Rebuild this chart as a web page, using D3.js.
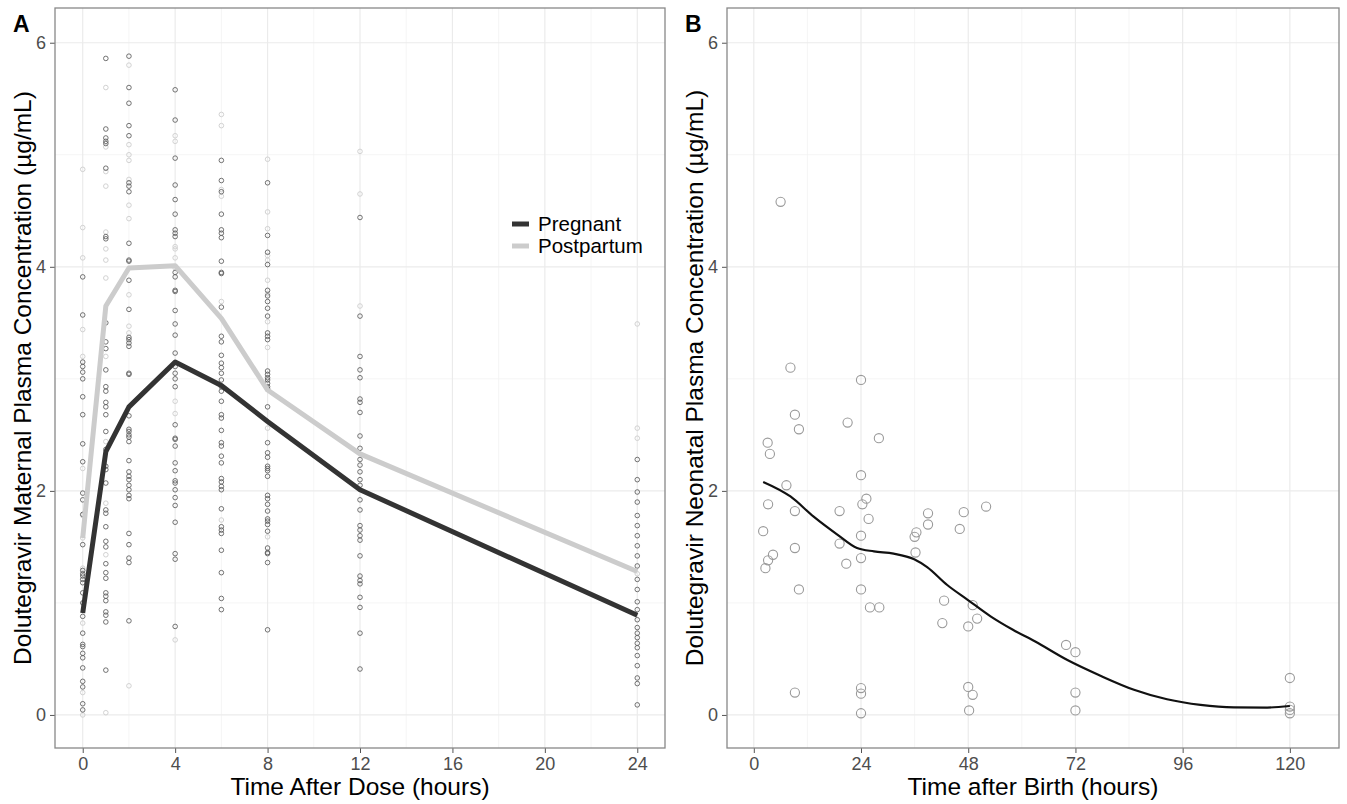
<!DOCTYPE html>
<html>
<head>
<meta charset="utf-8">
<script src="https://cdn.jsdelivr.net/npm/d3@7"></script>
<style>
  body { margin: 0; background: #fff; }
  svg { font-family: "Liberation Sans", Arial, sans-serif; }
</style>
</head>
<body>
<div class="canvas"></div>
<script>
// ---- panel A data (maternal) ----
const timesA = [0, 1, 2, 4, 6, 8, 12, 24];
const pregnantObs = [
  [3.91, 3.57, 3.15, 3.11, 3.06, 3.0, 2.84, 2.68, 2.42, 2.26, 1.98, 1.92, 1.79, 1.52, 1.29, 1.26, 1.24, 1.21, 1.18, 1.09, 1.0, 0.88, 0.73, 0.63, 0.61, 0.55, 0.51, 0.42, 0.3, 0.25, 0.1, 0.045],
  [5.86, 5.23, 5.15, 5.12, 5.1, 4.88, 4.27, 4.25, 3.5, 3.33, 3.27, 3.08, 2.93, 2.89, 2.79, 2.75, 2.68, 2.53, 2.37, 2.22, 2.19, 2.07, 1.83, 1.8, 1.68, 1.55, 1.5, 1.35, 1.27, 1.22, 1.09, 1.06, 1.02, 0.92, 0.89, 0.83, 0.4],
  [5.88, 5.6, 5.46, 5.26, 5.17, 4.75, 4.72, 4.67, 4.21, 4.06, 4.05, 3.88, 3.62, 3.37, 3.35, 3.32, 3.29, 3.05, 3.04, 2.67, 2.55, 2.53, 2.5, 2.48, 2.44, 2.27, 2.17, 2.13, 2.1, 2.05, 2.01, 1.96, 1.93, 1.62, 1.52, 1.4, 1.36, 0.84],
  [5.58, 5.31, 4.97, 4.73, 4.6, 4.47, 4.33, 4.3, 4.27, 3.95, 3.91, 3.79, 3.78, 3.61, 3.49, 3.39, 3.23, 3.11, 3.05, 3.0, 2.93, 2.59, 2.47, 2.46, 2.4, 2.25, 2.18, 2.09, 2.07, 2.01, 1.94, 1.87, 1.72, 1.44, 1.39, 0.79],
  [4.95, 4.77, 4.67, 4.47, 4.33, 4.3, 4.26, 4.05, 3.95, 3.94, 3.64, 3.38, 3.33, 3.21, 3.14, 3.1, 3.05, 2.99, 2.93, 2.89, 2.8, 2.68, 2.65, 2.54, 2.43, 2.4, 2.31, 2.25, 2.11, 2.08, 2.04, 2.01, 1.84, 1.68, 1.65, 1.62, 1.47, 1.27, 1.04, 0.94],
  [4.75, 4.28, 4.13, 4.02, 3.79, 3.74, 3.69, 3.63, 3.56, 3.41, 3.38, 3.35, 3.07, 3.04, 3.01, 2.99, 2.96, 2.93, 2.91, 2.75, 2.43, 2.34, 2.3, 2.22, 2.2, 2.18, 2.13, 1.96, 1.93, 1.88, 1.82, 1.75, 1.73, 1.7, 1.64, 1.49, 1.45, 1.44, 1.36, 0.76],
  [4.44, 3.56, 3.2, 3.08, 3.01, 2.82, 2.79, 2.7, 2.49, 2.38, 2.28, 2.23, 2.17, 2.1, 2.05, 1.92, 1.83, 1.69, 1.65, 1.6, 1.56, 1.42, 1.24, 1.2, 1.17, 1.05, 0.96, 0.73, 0.41],
  [2.28, 2.1, 1.99, 1.9, 1.78, 1.69, 1.6, 1.51, 1.42, 1.33, 1.21, 1.12, 1.01, 0.94, 0.85, 0.78, 0.73, 0.69, 0.64, 0.6, 0.53, 0.44, 0.33, 0.28, 0.09]
];
const postpartumObs = [
  [4.87, 4.35, 4.08, 3.44, 3.2, 2.2, 1.78, 1.58, 1.31, 0.82, 0.2, 0.0],
  [5.6, 5.07, 4.85, 4.72, 4.31, 4.16, 4.06, 3.9, 3.2, 2.44, 1.89, 1.43, 0.02],
  [5.8, 5.09, 5.0, 4.95, 4.78, 4.55, 4.43, 3.75, 3.47, 3.41, 0.26],
  [5.17, 5.12, 4.18, 4.16, 4.08, 3.99, 2.8, 2.69, 0.67],
  [5.36, 5.26, 4.69, 4.63, 3.69, 1.74],
  [4.96, 4.49, 4.34, 4.1, 4.06, 3.88, 3.76, 3.51, 3.28, 2.56, 1.59],
  [5.03, 4.65, 3.65],
  [3.49, 2.56, 2.47, 1.26]
];
const pregnantMean = [0.91, 2.35, 2.75, 3.15, 2.94, 2.62, 2.01, 0.89];
const postpartumMean = [1.58, 3.65, 3.99, 4.01, 3.54, 2.9, 2.33, 1.28];
const seriesNames = ['Pregnant', 'Postpartum'];

// ---- panel B data (neonatal) ----
const neoTime = [6, 8.2, 24, 9.2, 21, 10.1, 28, 3.1, 3.6, 24, 7.3, 25.2, 24.3, 3.2, 9.2, 19.2, 39, 47, 52, 25.7,
  39, 46.1, 2.1, 36.4, 36, 24, 19.2, 9.2, 36.2, 4.3, 3.2, 24, 20.7, 2.6, 10.1, 24, 42.6, 26, 28.1, 49,
  50, 42.2, 48, 9.2, 24, 24, 24, 48, 49, 48.2, 69.9, 72, 72, 72, 120, 120, 120, 120];
const neoConc = [4.58, 3.1, 2.99, 2.68, 2.61, 2.55, 2.47, 2.43, 2.33, 2.14, 2.05, 1.93, 1.88, 1.88, 1.82, 1.82, 1.8, 1.81, 1.86, 1.75,
  1.7, 1.66, 1.64, 1.63, 1.59, 1.6, 1.53, 1.49, 1.45, 1.43, 1.38, 1.4, 1.35, 1.31, 1.12, 1.12, 1.02, 0.96, 0.96, 0.98,
  0.86, 0.82, 0.79, 0.2, 0.24, 0.19, 0.015, 0.25, 0.18, 0.04, 0.625, 0.56, 0.2, 0.04, 0.33, 0.075, 0.045, 0.015];
// loess curve
const smoothTime = [2.1, 8.2, 13.4, 18.7, 23.1, 26.9, 31.3, 35.9, 38.8, 43.3, 47.8, 53, 58, 63, 70.2, 77.6, 85.1, 92.5, 100, 107.5, 114.9, 120];
const smoothConc = [2.08, 1.95, 1.77, 1.61, 1.49, 1.46, 1.44, 1.39, 1.32, 1.16, 1.03, 0.88, 0.76, 0.655, 0.49, 0.35, 0.225, 0.14, 0.09, 0.068, 0.066, 0.08];

// ticks
const yTicks = [0, 2, 4, 6];
const yMinor = [1, 3, 5];
const xTicksA = [0, 4, 8, 12, 16, 20, 24];
const xMinorA = [2, 6, 10, 14, 18, 22];
const xTicksB = [0, 24, 48, 72, 96, 120];
const xMinorB = [12, 36, 60, 84, 108];

const svg = d3.select('.canvas')
  .append('svg')
  .attr('width', 1347)
  .attr('height', 804);

const panelA = { left: 55, top: 8, right: 665, bottom: 748 };
const panelB = { left: 727, top: 8, right: 1339, bottom: 748 };

const xA = d3.scaleLinear().domain([-1.2, 25.2]).range([panelA.left, panelA.right]);
const xB = d3.scaleLinear().domain([-6, 131]).range([panelB.left, panelB.right]);
const yA = d3.scaleLinear().domain([-0.295, 6.31]).range([panelA.bottom, panelA.top]);
const yB = d3.scaleLinear().domain([-0.295, 6.31]).range([panelB.bottom, panelB.top]);

// draws grid, axes, border, titles for one panel
const drawFrame = (p, x, y, xMajor, xMinor, xTitle, yTitle, tag) => {
  const g = svg.append('g');
  g.selectAll('.vminor').data(xMinor).enter().append('line')
    .attr('x1', d => x(d)).attr('x2', d => x(d))
    .attr('y1', p.top).attr('y2', p.bottom)
    .attr('stroke', '#f2f2f2').attr('stroke-width', 0.8);
  g.selectAll('.hminor').data(yMinor).enter().append('line')
    .attr('y1', d => y(d)).attr('y2', d => y(d))
    .attr('x1', p.left).attr('x2', p.right)
    .attr('stroke', '#f2f2f2').attr('stroke-width', 0.8);
  g.selectAll('.vmajor').data(xMajor).enter().append('line')
    .attr('x1', d => x(d)).attr('x2', d => x(d))
    .attr('y1', p.top).attr('y2', p.bottom)
    .attr('stroke', '#ebebeb').attr('stroke-width', 1.2);
  g.selectAll('.hmajor').data(yTicks).enter().append('line')
    .attr('y1', d => y(d)).attr('y2', d => y(d))
    .attr('x1', p.left).attr('x2', p.right)
    .attr('stroke', '#ebebeb').attr('stroke-width', 1.2);

  // axes
  const xAxis = d3.axisBottom(x).tickValues(xMajor).tickFormat(d3.format('d'))
    .tickSize(5).tickPadding(4).tickSizeOuter(0);
  const yAxis = d3.axisLeft(y).tickValues(yTicks).tickFormat(d3.format('d'))
    .tickSize(5).tickPadding(4).tickSizeOuter(0);
  const xg = svg.append('g').attr('transform', `translate(0, ${p.bottom})`).call(xAxis);
  const yg = svg.append('g').attr('transform', `translate(${p.left}, 0)`).call(yAxis);
  [xg, yg].forEach(a => {
    a.select('.domain').remove();
    a.selectAll('line').attr('stroke', '#555').attr('stroke-width', 1);
    a.selectAll('text').attr('fill', '#4d4d4d').style('font-size', '18px');
  });

  // border
  svg.append('rect')
    .attr('x', p.left).attr('y', p.top)
    .attr('width', p.right - p.left).attr('height', p.bottom - p.top)
    .attr('fill', 'none').attr('stroke', '#888').attr('stroke-width', 1.3);

  // titles
  svg.append('text')
    .attr('x', (p.left + p.right) / 2).attr('y', 795)
    .attr('text-anchor', 'middle')
    .style('font-size', '24.5px').attr('fill', '#000')
    .text(xTitle);
  svg.append('text')
    .attr('transform', `translate(${p.left - 24}, ${(p.top + p.bottom) / 2}) rotate(-90)`)
    .attr('text-anchor', 'middle')
    .style('font-size', '24.5px').attr('fill', '#000')
    .text(yTitle);
  svg.append('text')
    .attr('x', p.left - 42).attr('y', 32)
    .style('font-size', '23px').style('font-weight', 'bold')
    .text(tag);
};

drawFrame(panelA, xA, yA, xTicksA, xMinorA, 'Time After Dose (hours)',
  'Dolutegravir Maternal Plasma Concentration (\u00b5g/mL)', 'A');
drawFrame(panelB, xB, yB, xTicksB, xMinorB, 'Time after Birth (hours)',
  'Dolutegravir Neonatal Plasma Concentration (\u00b5g/mL)', 'B');

// ---- panel A marks ----
const flatten = obs => obs.flatMap((vals, i) => vals.map(v => ({ t: timesA[i], v: v })));

svg.append('g').selectAll('circle')
  .data(flatten(postpartumObs))
  .enter().append('circle')
  .attr('cx', d => xA(d.t)).attr('cy', d => yA(d.v))
  .attr('r', 2.3)
  .attr('fill', 'none').attr('stroke', '#d2d2d2').attr('stroke-width', 1);

svg.append('g').selectAll('circle')
  .data(flatten(pregnantObs))
  .enter().append('circle')
  .attr('cx', d => xA(d.t)).attr('cy', d => yA(d.v))
  .attr('r', 2.3)
  .attr('fill', 'none').attr('stroke', '#5a5a5a').attr('stroke-opacity', 0.85).attr('stroke-width', 1);

const lineA = d3.line()
  .x((d, i) => xA(timesA[i]))
  .y(d => yA(d));

svg.append('path').datum(postpartumMean)
  .attr('d', lineA)
  .attr('fill', 'none').attr('stroke', '#cccccc').attr('stroke-width', 5)
  .attr('stroke-linejoin', 'round');
svg.append('path').datum(pregnantMean)
  .attr('d', lineA)
  .attr('fill', 'none').attr('stroke', '#333333').attr('stroke-width', 5)
  .attr('stroke-linejoin', 'round');

// legend
const legendColors = ['#333333', '#cccccc'];
const legend = svg.append('g').attr('transform', 'translate(512, 224)');
seriesNames.forEach((name, i) => {
  legend.append('line')
    .attr('x1', 0).attr('x2', 17)
    .attr('y1', i * 22).attr('y2', i * 22)
    .attr('stroke', legendColors[i]).attr('stroke-width', 5);
  legend.append('text')
    .attr('x', 26).attr('y', i * 22 + 7)
    .style('font-size', '20.5px').attr('fill', '#000')
    .text(name);
});

// ---- panel B marks ----
svg.append('g').selectAll('circle')
  .data(neoTime.map((t, i) => ({ t: t, v: neoConc[i] })))
  .enter().append('circle')
  .attr('cx', d => xB(d.t)).attr('cy', d => yB(d.v))
  .attr('r', 4.6)
  .attr('fill', 'none').attr('stroke', '#9a9a9a').attr('stroke-width', 1.1);

const lineB = d3.line()
  .x((d, i) => xB(smoothTime[i]))
  .y(d => yB(d))
  .curve(d3.curveMonotoneX);

svg.append('path').datum(smoothConc)
  .attr('d', lineB)
  .attr('fill', 'none').attr('stroke', '#111').attr('stroke-width', 2.2);
</script>
</body>
</html>
